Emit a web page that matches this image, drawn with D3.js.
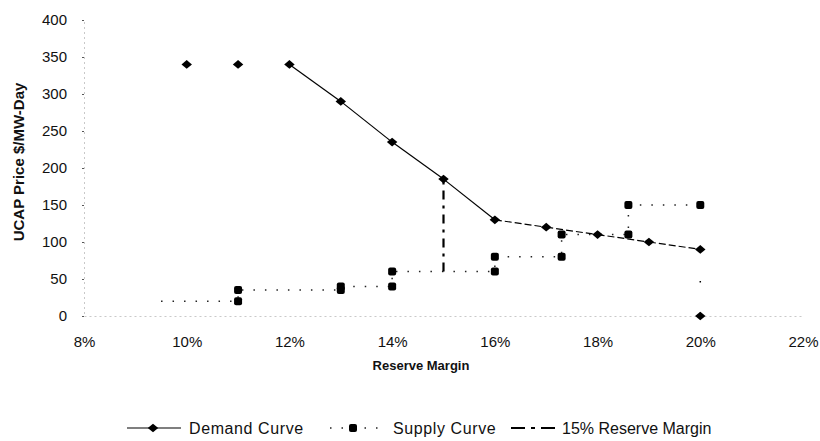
<!DOCTYPE html>
<html>
<head>
<meta charset="utf-8">
<title>UCAP Demand and Supply Curves</title>
<script src="https://cdn.jsdelivr.net/npm/d3@7"></script>
<style>
  body { margin: 0; background: #fff; }
  svg text { font-family: "Liberation Sans", Arial, sans-serif; fill: #111; }
</style>
</head>
<body>
<div id="chart"></div>
<script>
// reserve margin in %, price in $/MW-Day
var demandX = [10, 11, 12, 13, 14, 15, 16, 17, 18, 19, 20, 20];
var demandY = [340, 340, 340, 290, 235, 185, 130, 120, 110, 100, 90, 0];

var supplyX = [9.5, 11, 11, 13, 13, 14, 14, 16, 16, 17.3, 17.3, 18.6, 18.6, 20];
var supplyY = [20, 20, 35, 35, 40, 40, 60, 60, 80, 80, 110, 110, 150, 150];

var reserveX = [15, 15];
var reserveY = [60, 185];

var xTicks = [8, 10, 12, 14, 16, 18, 20, 22];
var yTicks = [0, 50, 100, 150, 200, 250, 300, 350, 400];

var seriesNames = ['Demand Curve', 'Supply Curve', '15% Reserve Margin'];

var width = 820, height = 441;
var svg = d3.select('#chart').append('svg')
    .attr('width', width)
    .attr('height', height);

var x = d3.scaleLinear().domain([8, 22]).range([84, 803]);
var y = d3.scaleLinear().domain([0, 400]).range([316, 20]);

// axes - the thin lines are barely visible in the original, keep them light
var xAxis = svg.append('g')
    .attr('transform', 'translate(0,' + y(0) + ')')
    .call(d3.axisBottom(x).tickValues(xTicks).tickSize(0).tickPadding(20)
        .tickFormat(function (d) { return d + '%'; }));
var yAxis = svg.append('g')
    .attr('transform', 'translate(' + x(8) + ',0)')
    .call(d3.axisLeft(y).tickValues(yTicks).tickSize(2).tickPadding(15));

[xAxis, yAxis].forEach(function (g) {
    g.select('.domain').attr('stroke', '#bbb').attr('stroke-width', 0.8)
        .attr('stroke-dasharray', '2,3');
    g.selectAll('.tick line').attr('stroke', '#555');
    g.selectAll('.tick text').style('font-size', '15px').attr('fill', '#111');
});

// axis titles
svg.append('text')
    .attr('x', 421).attr('y', 370)
    .attr('text-anchor', 'middle')
    .style('font-size', '13px').style('font-weight', 'bold')
    .text('Reserve Margin');

svg.append('text')
    .attr('transform', 'translate(24,162) rotate(-90)')
    .attr('text-anchor', 'middle')
    .style('font-size', '15px').style('font-weight', 'bold')
    .text('UCAP Price $/MW-Day');

function pts(xs, ys) {
    return xs.map(function (v, i) { return [v, ys[i]]; });
}

var line = d3.line()
    .x(function (d) { return x(d[0]); })
    .y(function (d) { return y(d[1]); });

// supply: dotted step line
var supply = pts(supplyX, supplyY);
svg.append('path')
    .attr('d', line(supply))
    .attr('fill', 'none')
    .attr('stroke', '#222')
    .attr('stroke-width', 1.5)
    .attr('stroke-dasharray', '1.5,10');

// 15% reserve margin: dash-dot vertical
svg.append('path')
    .attr('d', line(pts(reserveX, reserveY)))
    .attr('fill', 'none')
    .attr('stroke', '#000')
    .attr('stroke-width', 2.2)
    .attr('stroke-dasharray', '9,6,3,6');

// demand line: the first two points are not joined in the original
var demand = pts(demandX, demandY);
for (var i = 2; i < demand.length - 1; i++) {
    var seg = svg.append('path')
        .attr('d', line([demand[i], demand[i + 1]]))
        .attr('fill', 'none')
        .attr('stroke', '#000')
        .attr('stroke-width', 1.2);
    if (i === demand.length - 2) {
        seg.attr('stroke-dasharray', '1.5,30').attr('stroke-width', 1.5);
    } else if (demand[i][0] >= 16) {
        seg.attr('stroke-dasharray', '7,3');
    }
}

// flat diamond: rotated square, stretched a little sideways
var diamond = d3.symbol().type(d3.symbolSquare).size(38);
function diamondAt(px, py) {
    return 'translate(' + px + ',' + py + ') scale(1.2,1) rotate(45)';
}

svg.selectAll('.demand-pt')
    .data(demand)
    .enter().append('path')
    .attr('class', 'demand-pt')
    .attr('d', diamond)
    .attr('transform', function (d) { return diamondAt(x(d[0]), y(d[1])); })
    .attr('fill', '#000');

// supply markers (first point is the line start only)
svg.selectAll('.supply-pt')
    .data(supply.slice(1))
    .enter().append('rect')
    .attr('class', 'supply-pt')
    .attr('x', function (d) { return x(d[0]) - 4; })
    .attr('y', function (d) { return y(d[1]) - 4; })
    .attr('width', 8).attr('height', 8)
    .attr('rx', 2)
    .attr('fill', '#000');

// legend
var ly = 428;
var lg = svg.append('g');

lg.append('line')
    .attr('x1', 127).attr('x2', 181).attr('y1', ly).attr('y2', ly)
    .attr('stroke', '#000').attr('stroke-width', 1.2);
lg.append('path')
    .attr('d', diamond)
    .attr('transform', diamondAt(153, ly));
lg.append('text')
    .attr('x', 189).attr('y', ly + 6)
    .style('font-size', '16px').style('letter-spacing', '0.6px').attr('fill', '#222')
    .text(seriesNames[0]);

lg.append('line')
    .attr('x1', 330).attr('x2', 385).attr('y1', ly).attr('y2', ly)
    .attr('stroke', '#222').attr('stroke-width', 1.5)
    .attr('stroke-dasharray', '1.5,10');
lg.append('rect')
    .attr('x', 349).attr('y', ly - 4).attr('width', 8).attr('height', 8)
    .attr('rx', 2);
lg.append('text')
    .attr('x', 393).attr('y', ly + 6)
    .style('font-size', '16px').style('letter-spacing', '0.6px').attr('fill', '#222')
    .text(seriesNames[1]);

lg.append('line')
    .attr('x1', 511).attr('x2', 556).attr('y1', ly).attr('y2', ly)
    .attr('stroke', '#000').attr('stroke-width', 2)
    .attr('stroke-dasharray', '14,6,4,6');
lg.append('text')
    .attr('x', 562).attr('y', ly + 6)
    .style('font-size', '16px').attr('fill', '#222')
    .text(seriesNames[2]);
</script>
</body>
</html>
